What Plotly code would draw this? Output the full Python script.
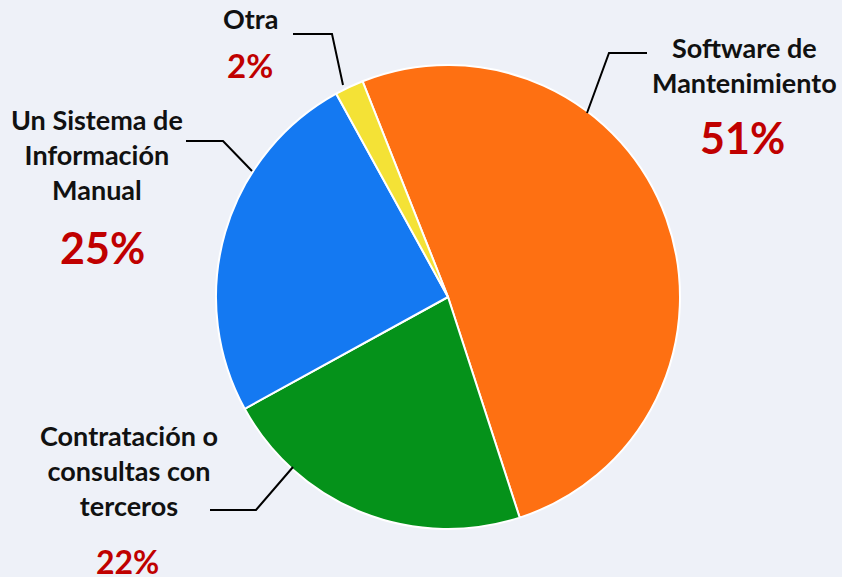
import plotly.graph_objects as go

W, H = 842, 577

categories = ["Software de Mantenimiento", "Contratación o consultas con terceros",
              "Un Sistema de Información Manual", "Otra"]
values = [51, 22, 25, 2]
colors = ["#FE7012", "#05921A", "#1479F2", "#F4E236"]

label_texts = ["Software de<br>Mantenimiento", "Contratación o<br>consultas con<br>terceros",
               "Un Sistema de<br>Información<br>Manual", "Otra"]
pct_texts = [f"{v}%" for v in values]

FONT = "Lato, 'Open Sans', sans-serif"


def px(x, y):
    return x / W, 1 - y / H


# pie geometry (pixels)
cx, cy, r = 448, 297, 232
x0, y0 = px(cx - r, cy + r)
x1, y1 = px(cx + r, cy - r)

fig = go.Figure(go.Pie(
    labels=categories,
    values=values,
    sort=False,
    direction="clockwise",
    rotation=-21.6,
    marker=dict(colors=colors, line=dict(color="#FFFFFF", width=2)),
    textinfo="none",
    hoverinfo="label+percent",
    showlegend=False,
    domain=dict(x=[x0, x1], y=[y0, y1]),
))

# label / percentage positions (pixel centers)
label_pos = [(744, 65, 27), (129, 470, 27), (97, 155, 27), (250, 19, 27)]
pct_pos = [(742, 137, 43), (127, 561, 32), (102, 248, 43), (250, 65, 33)]

annotations = []
for txt, (lx, ly, fs) in zip(label_texts, label_pos):
    ax, ay = px(lx, ly)
    annotations.append(dict(x=ax, y=ay, xref="paper", yref="paper", text=txt,
                            showarrow=False, xanchor="center", yanchor="middle",
                            font=dict(family=FONT, size=fs, color="#111111", weight="bold")))
for txt, (lx, ly, fs) in zip(pct_texts, pct_pos):
    ax, ay = px(lx, ly)
    annotations.append(dict(x=ax, y=ay, xref="paper", yref="paper", text=txt,
                            showarrow=False, xanchor="center", yanchor="middle",
                            font=dict(family=FONT, size=fs, color="#C00000", weight="bold")))

# leader lines (pixel polylines)
leaders = [
    [(587, 113), (609, 53), (647, 53)],
    [(293, 467), (256, 510), (210, 510)],
    [(252, 171), (223, 141), (186, 141)],
    [(343, 85), (332, 34), (293, 34)],
]
shapes = []
for pts in leaders:
    path = ""
    for i, (x, y) in enumerate(pts):
        xx, yy = px(x, y)
        path += ("M" if i == 0 else " L") + f" {xx:.5f},{yy:.5f}"
    shapes.append(dict(type="path", path=path, xref="paper", yref="paper",
                       line=dict(color="#000000", width=2)))

fig.update_layout(
    width=W, height=H,
    margin=dict(l=0, r=0, t=0, b=0),
    paper_bgcolor="#EEF1F8",
    plot_bgcolor="#EEF1F8",
    annotations=annotations,
    shapes=shapes,
)

fig.write_html(
    "out.html",
    config={"displayModeBar": False},
    post_script="document.body.style.margin='0';document.body.style.overflow='hidden';"
                "document.body.style.background='#EEF1F8';",
)
